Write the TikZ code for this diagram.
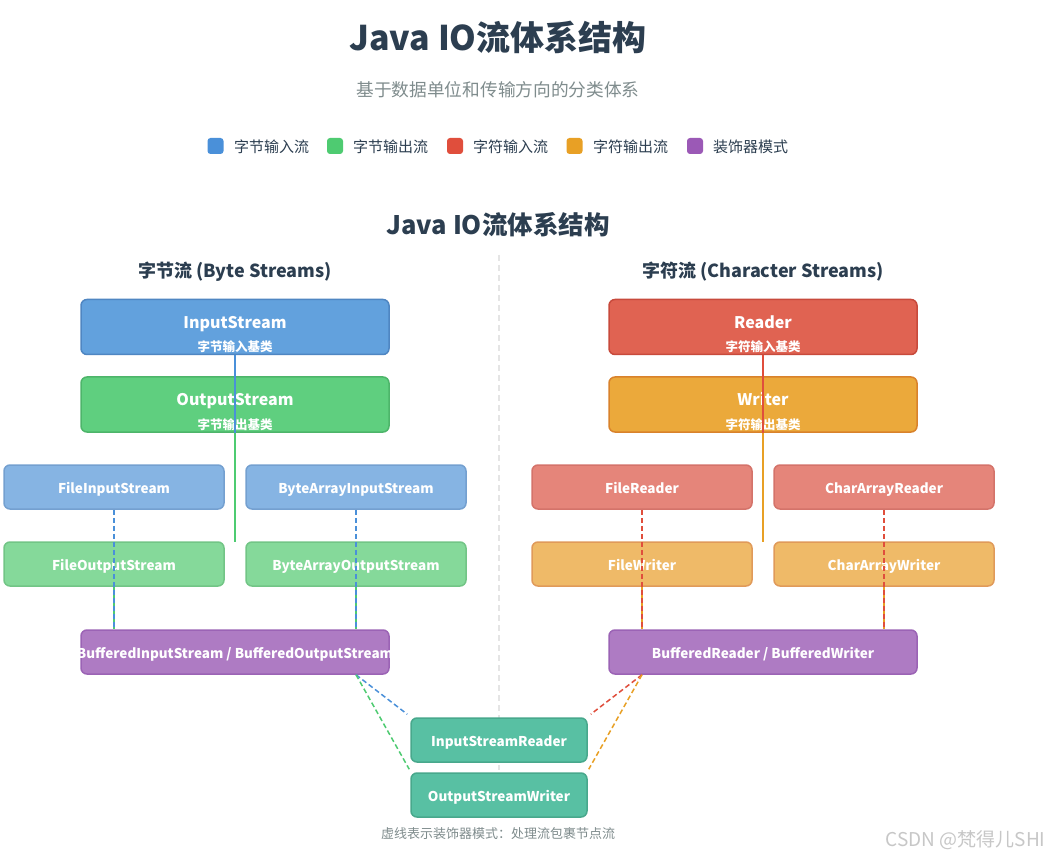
\documentclass[tikz,border=0pt]{standalone}
\usepackage{fontspec}
\setmainfont{Noto Sans CJK SC}
\definecolor{tdark}{HTML}{2C3E50}
\definecolor{tgray}{HTML}{7F8C8D}
\definecolor{lblue}{HTML}{4A90D9}
\definecolor{lgreen}{HTML}{4ECB71}
\definecolor{lred}{HTML}{E04E3C}
\definecolor{lorange}{HTML}{E8A025}
\definecolor{lpurple}{HTML}{9B59B6}
\definecolor{inF}{HTML}{62A1DD}\definecolor{inD}{HTML}{4F86C2}
\definecolor{outF}{HTML}{5FCF7F}\definecolor{outD}{HTML}{4DB56A}
\definecolor{rdF}{HTML}{E06352}\definecolor{rdD}{HTML}{C84A3C}
\definecolor{wrF}{HTML}{EBA93B}\definecolor{wrD}{HTML}{D9822B}
\definecolor{fiF}{HTML}{86B4E3}\definecolor{fiD}{HTML}{74A0D0}
\definecolor{foF}{HTML}{85D99A}\definecolor{foD}{HTML}{72C586}
\definecolor{frF}{HTML}{E5857A}\definecolor{frD}{HTML}{D4736A}
\definecolor{fwF}{HTML}{EFBA68}\definecolor{fwD}{HTML}{E09A5A}
\definecolor{bufF}{HTML}{AE7BC3}\definecolor{bufD}{HTML}{9B63B5}
\definecolor{tlF}{HTML}{58C0A3}\definecolor{tlD}{HTML}{48A88C}
\begin{document}
\begin{tikzpicture}[x=1pt,y=-1pt,
  box/.style={rectangle,rounded corners=6pt,line width=1.5pt,text=white,align=center,inner sep=0pt,text height=12pt,text depth=0pt},
  bigbox/.style={box,minimum width=308pt,minimum height=55pt},
  bigtitle/.style={text=white,inner sep=0pt,anchor=base,font=\bfseries\fontsize{16}{18}\selectfont},
  bigsub/.style={text=white,inner sep=0pt,anchor=base,font=\bfseries\fontsize{12.5}{14}\selectfont},
  smallbox/.style={box,minimum width=220pt,minimum height=44pt,font=\bfseries\fontsize{13.5}{16}\selectfont},
  bufbox/.style={box,minimum width=308pt,minimum height=44pt,font=\bfseries\fontsize{13.5}{16}\selectfont},
  tealbox/.style={box,minimum width=176pt,minimum height=44pt,font=\bfseries\fontsize{13.5}{16}\selectfont,fill=tlF,draw=tlD},
  legsq/.style={rectangle,rounded corners=3pt,minimum size=16pt,inner sep=0pt},
  legtxt/.style={anchor=west,inner sep=0pt,text=tdark,font=\fontsize{15}{18}\selectfont},
  heading/.style={text=tdark,font=\bfseries\fontsize{18}{21}\selectfont},
  solidln/.style={line width=2pt},
  dashln/.style={line width=1.5pt,dash pattern=on 5pt off 3pt}]
\fill[white] (0,0) rectangle (1052,858);
\useasboundingbox (0,0) rectangle (1052,858);

% titles
\node[text=tdark,font=\bfseries\fontsize{34}{38}\selectfont] (title) at (498,37) {Java IO流体系结构};
\node[text=tgray,font=\fontsize{17.7}{20}\selectfont] (subtitle) at (498,90) {基于数据单位和传输方向的分类体系};

% legend
\node[legsq,fill=lblue] (lg1) at (215.5,146) {};
\node[legtxt] (lt1) at (234,147) {字节输入流};
\node[legsq,fill=lgreen] (lg2) at (335,146) {};
\node[legtxt] (lt2) at (353,147) {字节输出流};
\node[legsq,fill=lred] (lg3) at (455,146) {};
\node[legtxt] (lt3) at (473,147) {字符输入流};
\node[legsq,fill=lorange] (lg4) at (574.5,146) {};
\node[legtxt] (lt4) at (593,147) {字符输出流};
\node[legsq,fill=lpurple] (lg5) at (695,146) {};
\node[legtxt] (lt5) at (713,147) {装饰器模式};

\node[text=tdark,font=\bfseries\fontsize{25.5}{28}\selectfont] (title2) at (498,225) {Java IO流体系结构};

% divider
\coordinate (dv1) at (499,255);
\coordinate (dv2) at (499,770);
\draw[line width=1.5pt,color=black!10,dash pattern=on 6pt off 4pt] (dv1) -- (dv2);

\node[heading] (hbyte) at (235,272) {字节流 (Byte Streams)};
\node[heading] (hchar) at (763,272) {字符流 (Character Streams)};

% byte side
\node[bigbox,fill=inF,draw=inD] (is) at (235,327) {};
\node[bigtitle] (ist) at (235,329) {InputStream};
\node[bigsub] (iss) at (235,352) {字节输入基类};
\node[bigbox,fill=outF,draw=outD] (os) at (235,404.5) {};
\node[bigtitle] (ost) at (235,406) {OutputStream};
\node[bigsub] (oss) at (235,429) {字节输出基类};
\node[smallbox,fill=fiF,draw=fiD] (fis) at (114,487) {FileInputStream};
\node[smallbox,fill=fiF,draw=fiD] (bais) at (356,487) {ByteArrayInputStream};
\node[smallbox,fill=foF,draw=foD] (fos) at (114,564) {FileOutputStream};
\node[smallbox,fill=foF,draw=foD] (baos) at (356,564) {ByteArrayOutputStream};
\node[bufbox,fill=bufF,draw=bufD] (bis) at (235,652) {\makebox[0pt][c]{BufferedInputStream / BufferedOutputStream}};

% char side
\node[bigbox,fill=rdF,draw=rdD] (rd) at (763,327) {};
\node[bigtitle] (rdt) at (763,329) {Reader};
\node[bigsub] (rds) at (763,352) {字符输入基类};
\node[bigbox,fill=wrF,draw=wrD] (wr) at (763,404.5) {};
\node[bigtitle] (wrt) at (763,406) {Writer};
\node[bigsub] (wrs) at (763,429) {字符输出基类};
\node[smallbox,fill=frF,draw=frD] (fr) at (642,487) {FileReader};
\node[smallbox,fill=frF,draw=frD] (car) at (884,487) {CharArrayReader};
\node[smallbox,fill=fwF,draw=fwD] (fw) at (642,564) {FileWriter};
\node[smallbox,fill=fwF,draw=fwD] (caw) at (884,564) {CharArrayWriter};
\node[bufbox,fill=bufF,draw=bufD] (brw) at (763,652) {BufferedReader / BufferedWriter};

% bridges
\node[tealbox] (isr) at (499,740) {InputStreamReader};
\node[tealbox] (osw) at (499,795) {OutputStreamWriter};

% solid connectors
\coordinate (bend) at (235,542);
\coordinate (cend) at (763,542);
\draw[solidln,lblue] (is.south) -- (os.south);
\draw[solidln,lgreen] (os.south) -- (bend);
\draw[solidln,lred] (rd.south) -- (wr.south);
\draw[solidln,lorange] (wr.south) -- (cend);

% dashed verticals
\draw[dashln,lgreen] (fos.south) -- (fos.south |- bis.north);
\draw[dashln,lblue] (fis.south) -- (fis.south |- bis.north);
\draw[dashln,lgreen] (baos.south) -- (baos.south |- bis.north);
\draw[dashln,lblue] (bais.south) -- (bais.south |- bis.north);
\draw[dashln,lorange] (fw.south) -- (fw.south |- brw.north);
\draw[dashln,lred] (fr.south) -- (fr.south |- brw.north);
\draw[dashln,lorange] (caw.south) -- (caw.south |- brw.north);
\draw[dashln,lred] (car.south) -- (car.south |- brw.north);

% dashed diagonals
\draw[dashln,lblue] (bis.south -| bais.south) -- ([shift={(-3,-3)}]isr.north west);
\draw[dashln,lgreen] (bis.south -| bais.south) -- ([shift={(-1,-3)}]osw.north west);
\draw[dashln,lred] (brw.south -| fr.south) -- ([shift={(3,-3)}]isr.north east);
\draw[dashln,lorange] (brw.south -| fr.south) -- ([shift={(1,-3)}]osw.north east);

% footnote & watermark
\node[text=tgray,font=\fontsize{13}{15}\selectfont] (note) at (498,834) {虚线表示装饰器模式：处理流包裹节点流};
\node[text=black!22,font=\fontsize{19}{22}\selectfont,anchor=east] (wm) at (1049,840) {CSDN @梵得儿SHI};
\end{tikzpicture}
\end{document}
